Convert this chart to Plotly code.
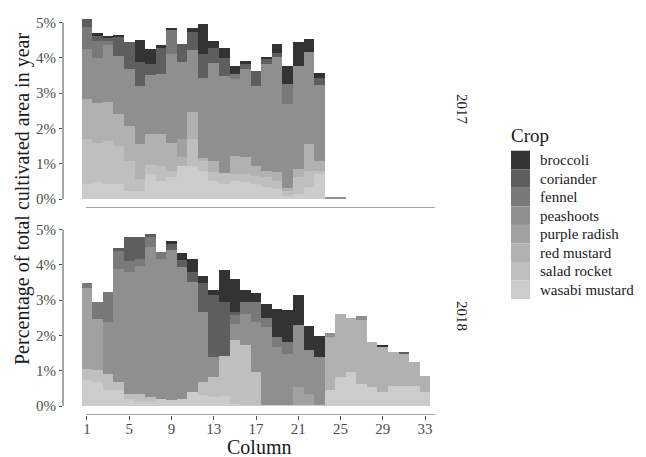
import plotly.graph_objects as go
from plotly.subplots import make_subplots

# ---------------- data ----------------
columns = list(range(1, 34))
crops = ["broccoli", "coriander", "fennel", "peashoots",
         "purple radish", "red mustard", "salad rocket", "wasabi mustard"]
crop_colors = ["#333333", "#5e5e5e", "#797979", "#8f8f8f",
               "#a1a1a1", "#b1b1b1", "#bfbfbf", "#cccccc"]
years = ["2017", "2018"]
y_tick_vals = [0, 1, 2, 3, 4, 5]
y_tick_text = ["0%", "1%", "2%", "3%", "4%", "5%"]
x_tick_vals = [1, 5, 9, 13, 17, 21, 25, 29, 33]

# 2017, percent of total cultivated area, columns 1..33
wasabi_2017 = [0.42, 0.47, 0.42, 0.42, 0.24, 0.24, 0.71, 0.52, 0.61, 0.94, 0.94, 0.80, 0.52, 0.42, 0.52, 0.47,
               0.42, 0.33, 0.28, 0.09, 0.14, 0.33, 0.71, 0, 0, 0, 0, 0, 0, 0, 0, 0, 0]
salad_2017 = [1.27, 1.13, 1.23, 1.09, 0.85, 0.33, 0.24, 0.42, 0.19, 0, 0.76, 0.28, 0.24, 0.33, 0.19, 0.24,
              0.24, 0.28, 0.24, 0.14, 0.47, 0.47, 0.09, 0, 0, 0, 0, 0, 0, 0, 0, 0, 0]
redmustard_2017 = [1.13, 1.13, 1.09, 0.90, 0.99, 0.99, 0.90, 0.90, 0.80, 0.24, 0.76, 0.09, 0.33, 0, 0.52, 0.47,
                   0.28, 0.19, 0.24, 0.09, 0.24, 0.76, 0.28, 0, 0, 0, 0, 0, 0, 0, 0, 0, 0]
radish_2017 = [0, 0, 0, 0, 0, 0, 0, 0, 0, 0.52, 0, 0, 0, 0, 0, 0,
               0, 0, 0, 0, 0, 0, 0, 0, 0, 0, 0, 0, 0, 0, 0, 0, 0]
peashoots_2017 = [1.42, 1.27, 1.61, 1.65, 1.61, 1.65, 1.65, 1.70, 2.52, 2.17, 1.75, 2.27, 2.76, 2.74, 2.17, 2.50,
                  2.27, 3.02, 3.26, 2.36, 2.93, 2.60, 2.15, 0.07, 0.07, 0, 0, 0, 0, 0, 0, 0, 0]
fennel_2017 = [0.63, 0.47, 0.14, 0, 0, 0, 0, 0, 0.66, 0, 0, 0, 0, 0, 0.14, 0,
               0, 0, 0, 0.59, 0, 0, 0, 0, 0, 0, 0, 0, 0, 0, 0, 0, 0]
coriander_2017 = [0.22, 0.14, 0.08, 0.52, 0.77, 0.66, 0.33, 0.76, 0, 0.52, 0.52, 0.68, 0.42, 0.50, 0, 0.14,
                  0.42, 0.14, 0.11, 0, 0, 0, 0.19, 0, 0, 0, 0, 0, 0, 0, 0, 0, 0]
broccoli_2017 = [0, 0.08, 0.05, 0.08, 0, 0.63, 0.42, 0.05, 0.06, 0, 0.12, 0.85, 0.20, 0.28, 0.24, 0.09,
                 0, 0.07, 0.25, 0.50, 0.66, 0.37, 0.14, 0, 0, 0, 0, 0, 0, 0, 0, 0, 0]

# 2018
wasabi_2018 = [0.73, 0.68, 0.44, 0.44, 0.21, 0.11, 0.11, 0.21, 0.16, 0.21, 0.40, 0.30, 0.25, 0.28, 0.07, 0.04,
               0.04, 0.04, 0.04, 0.04, 0.04, 0.04, 0.04, 0.44, 0.82, 0.96, 0.63, 0.54, 0.40, 0.58, 0.58, 0.58, 0.40]
salad_2018 = [0.33, 0.33, 0.47, 0.24, 0.14, 0.24, 0.14, 0, 0, 0, 0, 0.38, 0.57, 1.15, 1.79, 1.68,
              0.92, 0, 0, 0, 0, 0, 0, 0, 0, 0, 0, 0, 0, 0, 0, 0, 0]
redmustard_2018 = [0, 0, 0, 0, 0, 0, 0, 0, 0, 0, 0, 0, 0, 0, 0, 0,
                   0, 0, 0, 0, 0, 0, 0, 1.51, 1.79, 1.53, 1.82, 1.27, 1.29, 0.94, 0.92, 0.66, 0.45]
radish_2018 = [2.29, 1.46, 0, 0, 0, 0, 0, 0, 0, 0, 0, 0, 0, 0, 0, 0,
               0, 0, 0, 0, 0.50, 0.31, 0, 0, 0, 0, 0, 0, 0, 0, 0, 0, 0]
peashoots_2018 = [0, 0, 1.46, 3.21, 3.44, 3.63, 4.25, 3.96, 4.25, 3.73, 3.11, 1.98, 0.57, 0, 0.47, 0.90,
                  1.42, 2.20, 1.63, 1.44, 1.75, 1.23, 1.35, 0.12, 0, 0, 0.09, 0, 0, 0, 0, 0, 0]
fennel_2018 = [0.14, 0.47, 0.85, 0.49, 0.33, 0.19, 0.28, 0.19, 0, 0, 0, 0, 0, 0, 0.24, 0.33,
               0.57, 0.24, 0.28, 0.33, 0, 0, 0, 0, 0, 0, 0, 0, 0, 0, 0, 0, 0]
coriander_2018 = [0, 0, 0, 0.09, 0.66, 0.61, 0.09, 0, 0.19, 0.19, 0.28, 0.82, 1.75, 1.51, 0.09, 0,
                  0, 0, 0, 0, 0, 0, 0, 0, 0, 0, 0, 0, 0, 0, 0.04, 0, 0]
broccoli_2018 = [0, 0, 0, 0, 0, 0, 0, 0, 0.08, 0.21, 0.38, 0.19, 0.16, 0.90, 0.94, 0.33,
                 0.25, 0.42, 0.80, 0.90, 0.85, 0.68, 0.59, 0, 0, 0, 0, 0, 0.03, 0, 0, 0, 0]

values = {
    "2017": [broccoli_2017, coriander_2017, fennel_2017, peashoots_2017,
             radish_2017, redmustard_2017, salad_2017, wasabi_2017],
    "2018": [broccoli_2018, coriander_2018, fennel_2018, peashoots_2018,
             radish_2018, redmustard_2018, salad_2018, wasabi_2018],
}

# ---------------- layout geometry (pixels) ----------------
W, H = 646, 457
FONT = "Liberation Serif"
px = lambda v: v / W
py = lambda v: (H - v) / H

fig = make_subplots(rows=2, cols=1, shared_xaxes=True)

for r, yr in enumerate(years, start=1):
    # stack from bottom (wasabi) to top (broccoli)
    for i in reversed(range(len(crops))):
        fig.add_trace(go.Bar(
            x=columns, y=values[yr][i], name=crops[i], width=1,
            marker=dict(color=crop_colors[i], line=dict(width=0)),
            showlegend=False,
        ), row=r, col=1)

x_range = [-1.27, 35.08]
y_range = [-0.255, 5.355]
xdom = [px(63), px(447)]

axis_common = dict(showgrid=False, zeroline=False, showline=False)
tickfont = dict(family=FONT, size=15, color="#4d4d4d")
fig.update_layout(
    width=W, height=H, autosize=False,
    margin=dict(l=0, r=0, t=0, b=0),
    paper_bgcolor="white", plot_bgcolor="white",
    barmode="stack", bargap=0,
    font=dict(family=FONT, color="#1a1a1a"),
    xaxis=dict(domain=xdom, range=x_range, showticklabels=False, ticks="", **axis_common),
    xaxis2=dict(domain=xdom, range=x_range, tickvals=x_tick_vals, ticks="outside",
                ticklen=4, tickwidth=1, tickcolor="#4d4d4d", tickfont=tickfont,
                ticklabelstandoff=-4, **axis_common),
    yaxis=dict(domain=[py(208), py(10)], range=y_range, tickvals=y_tick_vals, ticktext=y_tick_text,
               ticks="outside", ticklen=3, tickwidth=1, tickcolor="#4d4d4d", tickfont=tickfont,
               **axis_common),
    yaxis2=dict(domain=[py(415), py(217)], range=y_range, tickvals=y_tick_vals, ticktext=y_tick_text,
                ticks="outside", ticklen=3, tickwidth=1, tickcolor="#4d4d4d", tickfont=tickfont,
                **axis_common),
)

shapes = []
annotations = []
# range-frame style axis lines
for yref in ["y", "y2"]:
    shapes.append(dict(type="line", xref="paper", yref=yref, x0=px(63), x1=px(63), y0=0, y1=5,
                       line=dict(color="#4d4d4d", width=1)))
    shapes.append(dict(type="line", xref="x", yref=yref, x0=0.9, x1=33.95, y0=y_range[0], y1=y_range[0],
                       line=dict(color="#4d4d4d", width=1)))

# facet strip labels
for yr, (top, bot) in zip(years, [(10, 208), (217, 415)]):
    annotations.append(dict(text=yr, xref="paper", yref="paper", x=px(462), y=py((top + bot) / 2),
                            showarrow=False, textangle=90, font=dict(family=FONT, size=15, color="#1a1a1a"),
                            xanchor="center", yanchor="middle"))

# axis titles
annotations.append(dict(text="Percentage of total cultivated area in year", xref="paper", yref="paper",
                        x=px(22), y=py(199), showarrow=False, textangle=-90,
                        font=dict(family=FONT, size=20, color="#1a1a1a"), xanchor="center", yanchor="middle"))
annotations.append(dict(text="Column", xref="paper", yref="paper", x=px(259), y=py(447), showarrow=False,
                        font=dict(family=FONT, size=20, color="#1a1a1a"), xanchor="center", yanchor="middle"))

# legend (drawn manually, ggplot style)
annotations.append(dict(text="Crop", xref="paper", yref="paper", x=px(509), y=py(136), showarrow=False,
                        font=dict(family=FONT, size=19, color="#1a1a1a"), xanchor="left", yanchor="middle"))
key_top, key_h = 150.7, 18.55
for i, (crop, col) in enumerate(zip(crops, crop_colors)):
    y0 = key_top + i * key_h
    shapes.append(dict(type="rect", xref="paper", yref="paper", x0=px(511), x1=px(530),
                       y0=py(y0 + key_h), y1=py(y0), fillcolor=col, line=dict(width=0)))
    annotations.append(dict(text=crop, xref="paper", yref="paper", x=px(538), y=py(y0 + key_h / 2),
                            showarrow=False, font=dict(family=FONT, size=15, color="#1a1a1a"),
                            xanchor="left", yanchor="middle"))

fig.update_layout(shapes=shapes, annotations=annotations)
fig.write_html("out.html", config={"displayModeBar": False},
               post_script="document.body.style.margin='0';document.body.style.overflow='hidden';")
